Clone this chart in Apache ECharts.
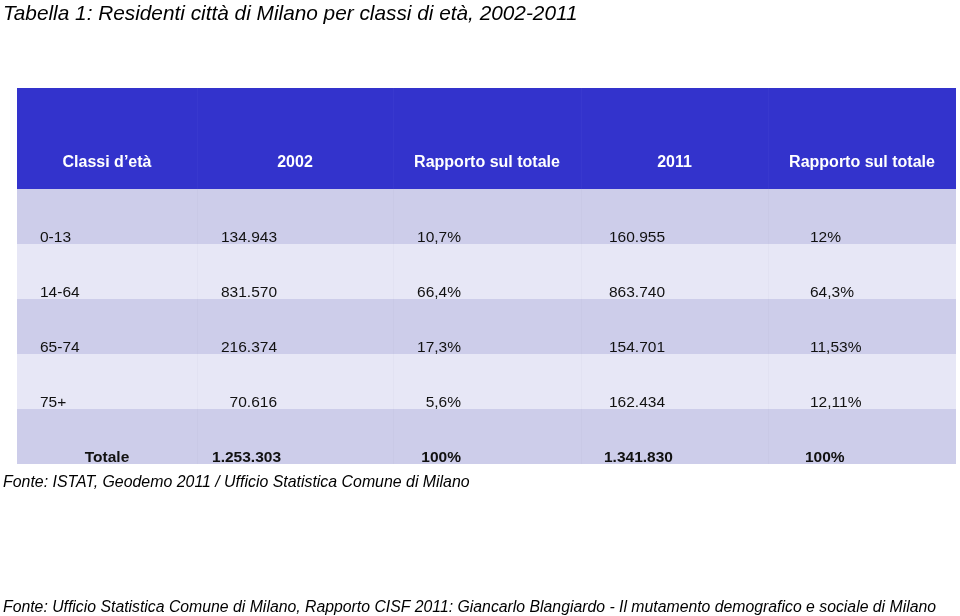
<!DOCTYPE html>
<html>
<head>
<meta charset="utf-8">
<script src="https://cdn.jsdelivr.net/npm/echarts@6/dist/echarts.min.js"></script>
<style>html,body{margin:0;padding:0;background:#fff}#c{width:960px;height:616px}</style>
</head>
<body>
<div id="c"></div>
<script>
// ---- data ----
const headers = ['Classi d\u2019età', '2002', 'Rapporto sul totale', '2011', 'Rapporto sul totale'];
const ageClasses = ['0-13', '14-64', '65-74', '75+', 'Totale'];
const pop2002 = [134943, 831570, 216374, 70616, 1253303];
const share2002 = ['10,7%', '66,4%', '17,3%', '5,6%', '100%'];
const pop2011 = [160955, 863740, 154701, 162434, 1341830];
const share2011 = ['12%', '64,3%', '11,53%', '12,11%', '100%'];
const titleText = 'Tabella 1: Residenti città di Milano per classi di età, 2002-2011';
const source1 = 'Fonte: ISTAT, Geodemo 2011 / Ufficio Statistica Comune di Milano';
const source2 = 'Fonte: Ufficio Statistica Comune di Milano, Rapporto CISF 2011: Giancarlo Blangiardo - Il mutamento demografico e sociale di Milano';

// ---- layout (axis units = page pixels) ----
const colEdges = [17, 197, 393, 581, 768, 956];
const rowEdges = [88, 189, 244, 299, 354, 409, 464];
const FONT = '"Liberation Sans", Arial, Helvetica, sans-serif';

function fmtThousands(n) {
  return String(n).replace(/\B(?=(\d{3})+(?!\d))/g, '.');
}

// build cell list: [col, row, text]
const cells = [];
headers.forEach((h, c) => cells.push([c, 0, h]));
ageClasses.forEach((a, i) => {
  const r = i + 1;
  cells.push([0, r, a]);
  cells.push([1, r, fmtThousands(pop2002[i])]);
  cells.push([2, r, share2002[i]]);
  cells.push([3, r, fmtThousands(pop2011[i])]);
  cells.push([4, r, share2011[i]]);
});
const lastRow = ageClasses.length;

function cellTextStyle(col, row, text, x0, x1, yb) {
  const isHeader = row === 0;
  const isTotal = row === lastRow;
  let x, align;
  if (isHeader) { x = (x0 + x1) / 2; align = 'center'; }
  else if (col === 0) {
    if (isTotal) { x = (x0 + x1) / 2; align = 'center'; }
    else { x = x0 + 23; align = 'left'; }
  } else if (col === 1) { x = x0 + (isTotal ? 84 : 80); align = 'right'; }
  else if (col === 2) { x = x0 + 68; align = 'right'; }
  else if (col === 3) { x = x0 + (isTotal ? 23 : 28); align = 'left'; }
  else { x = x0 + (isTotal ? 37 : 42); align = 'left'; }
  return {
    x: x, y: isHeader ? yb - 26.5 : yb - 6.5,
    text: text, align: align, verticalAlign: 'middle',
    fill: isHeader ? '#ffffff' : '#111111',
    font: ((isHeader || isTotal) ? 'bold ' : '') + (isHeader ? '16px ' : '15.5px ') + FONT
  };
}

const option = {
  animation: false,
  backgroundColor: '#ffffff',
  title: {
    text: titleText, left: 3, top: 4, padding: 0,
    textStyle: { fontFamily: FONT, fontStyle: 'italic', fontWeight: 'normal', fontSize: 20.8, color: '#000' }
  },
  grid: { left: 0, right: 0, top: 0, bottom: 0 },
  xAxis: { type: 'value', min: 0, max: 960, show: false },
  yAxis: { type: 'value', min: 0, max: 616, inverse: true, show: false },
  graphic: [
    { type: 'text', left: 3, top: 475, style: { text: source1, font: 'italic 15.9px ' + FONT, fill: '#000' } },
    { type: 'text', left: 3, top: 600, style: { text: source2, font: 'italic 15.8px ' + FONT, fill: '#000' } }
  ],
  series: [{
    type: 'custom',
    coordinateSystem: 'cartesian2d',
    data: cells,
    renderItem: function (params, api) {
      const col = api.value(0), row = api.value(1);
      const text = cells[params.dataIndex][2];
      const p0 = api.coord([colEdges[col], rowEdges[row]]);
      const p1 = api.coord([colEdges[col + 1], rowEdges[row + 1]]);
      let fill;
      if (row === 0) fill = '#3333cc';
      else fill = (row % 2 === 1) ? '#cdcdea' : '#e7e7f6';
      const sep = row === 0 ? '#3838ce' : (row % 2 === 1 ? '#c9c9e6' : '#e2e2f2');
      const children = [
        { type: 'rect', shape: { x: p0[0], y: p0[1], width: p1[0] - p0[0], height: p1[1] - p0[1] }, style: { fill: fill } },
        { type: 'text', style: cellTextStyle(col, row, text, p0[0], p1[0], p1[1]) }
      ];
      if (col > 0) {
        children.push({ type: 'line', shape: { x1: p0[0] + 0.5, y1: p0[1], x2: p0[0] + 0.5, y2: p1[1] }, style: { stroke: sep, lineWidth: 1 } });
      }
      return { type: 'group', children: children };
    }
  }]
};

const chart = echarts.init(document.getElementById('c'), null, { renderer: 'canvas' });
chart.setOption(option);
</script>
</body>
</html>
